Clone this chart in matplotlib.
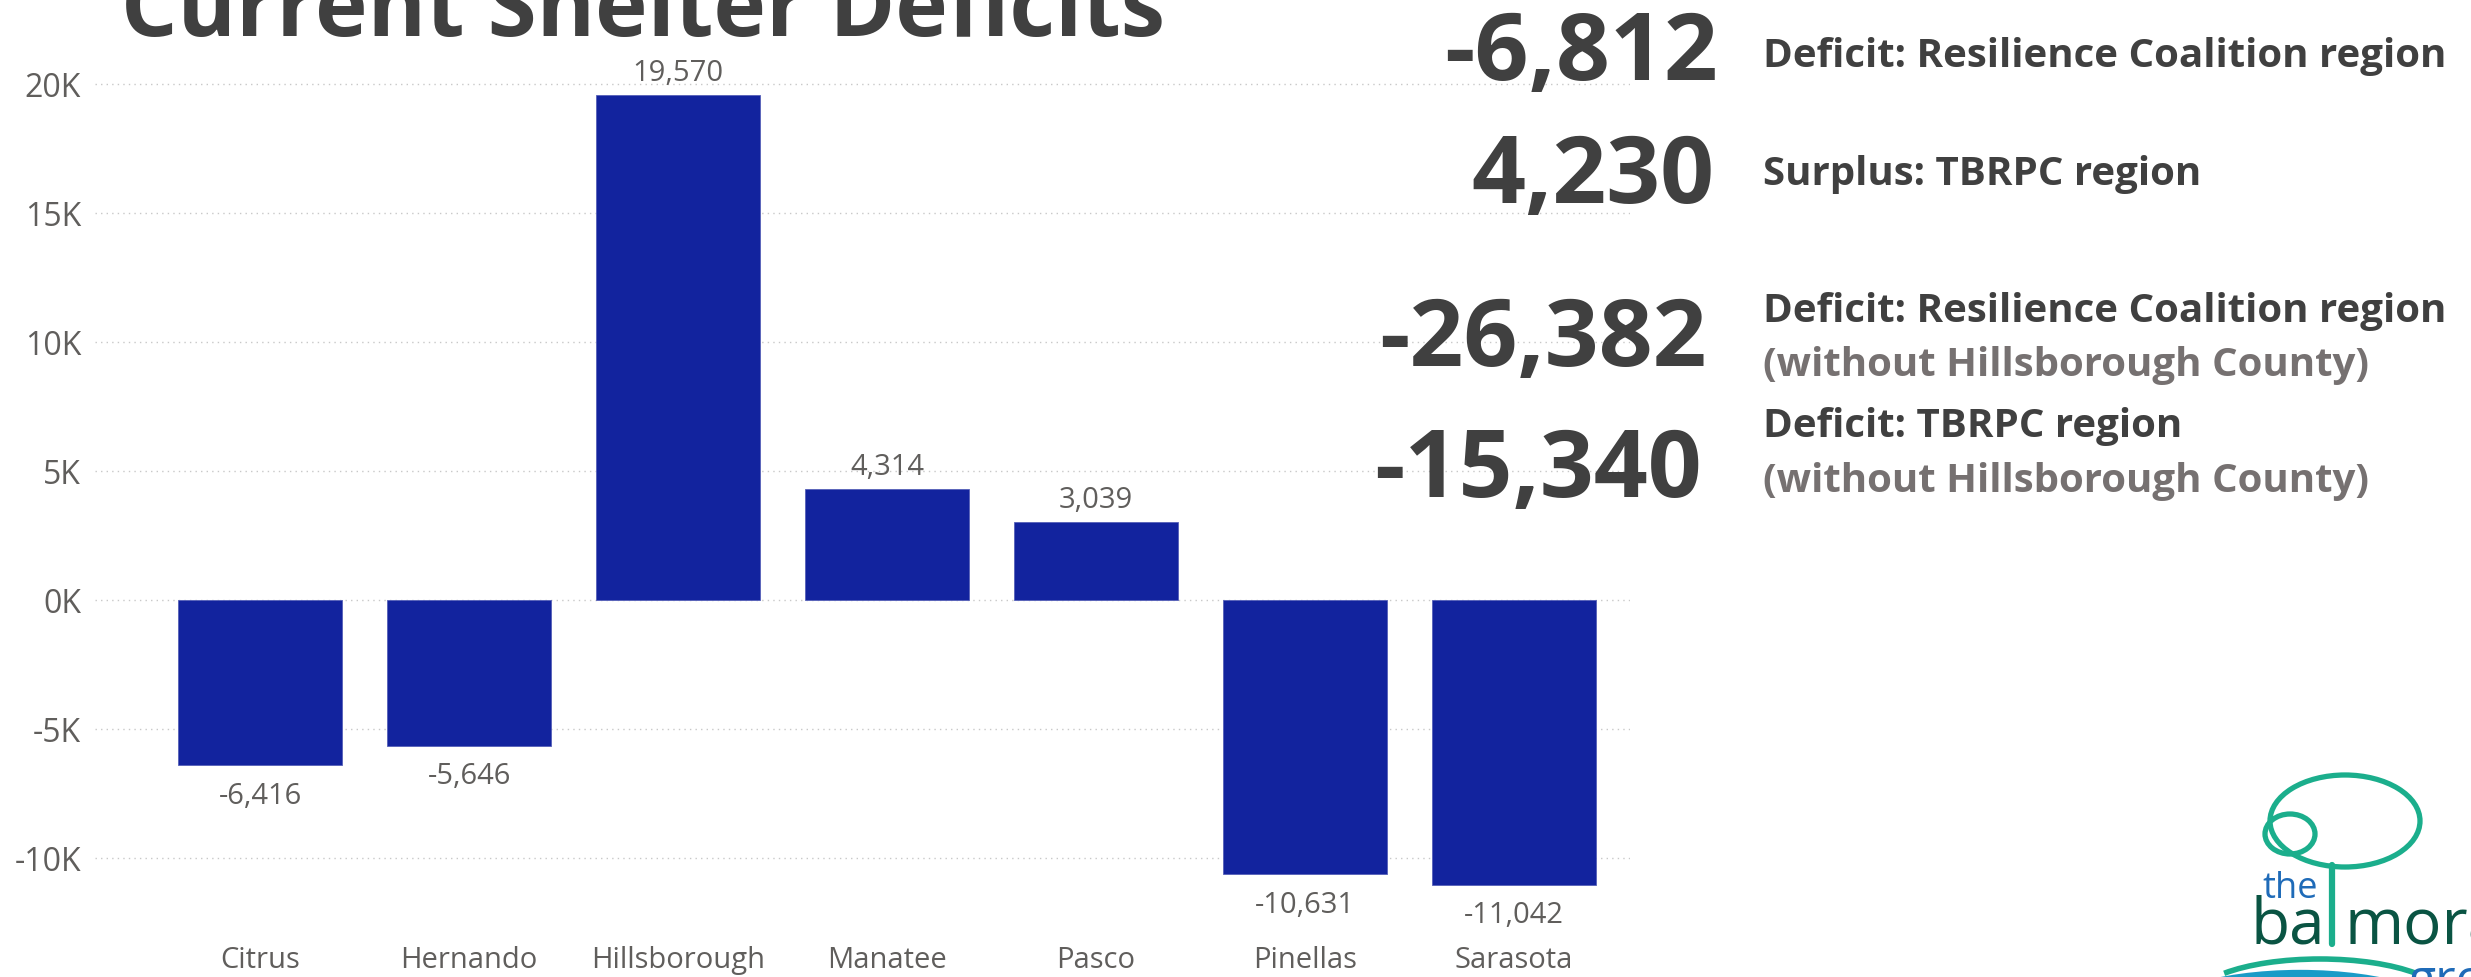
import numpy as np
import matplotlib.pyplot as plt
from matplotlib.patches import Ellipse, Arc

# chart data
counties = ['Citrus', 'Hernando', 'Hillsborough', 'Manatee', 'Pasco', 'Pinellas', 'Sarasota']
deficits = [-6416, -5646, 19570, 4314, 3039, -10631, -11042]
y_ticks = [-10000, -5000, 0, 5000, 10000, 15000, 20000]

# summary cards on the right
kpi_values = [-6812, 4230, -26382, -15340]
kpi_titles = ['Deficit: Resilience Coalition region', 'Surplus: TBRPC region',
              'Deficit: Resilience Coalition region', 'Deficit: TBRPC region']
kpi_notes = ['', '', '(without Hillsborough County)', '(without Hillsborough County)']

W, H = 2471, 978
BAR = '#12239E'
DARK = '#404040'
GREY = '#605E5C'

plt.rcParams['font.family'] = ['Open Sans', 'DejaVu Sans']
plt.rcParams['axes.unicode_minus'] = False

fig = plt.figure(figsize=(W / 100, H / 100), dpi=100)

# overlay in pixel coords for title, cards and logo
ov = fig.add_axes([0, 0, 1, 1])
ov.set_xlim(0, W)
ov.set_ylim(H, 0)
ov.axis('off')
ov.patch.set_visible(False)
ov.set_zorder(3)

ax = fig.add_axes([95 / W, (H - 923.5) / H, 1535 / W, 864.5 / H])
x = np.arange(len(counties))
ax.bar(x, deficits, width=0.785, color=BAR, edgecolor='#5560b8', linewidth=0.6, zorder=2)
ax.set_xlim(-0.79, 6.555)
ax.set_ylim(-12500, 21000)
ax.set_yticks(y_ticks)
ax.set_yticklabels([f'{v // 1000}K' for v in y_ticks])
ax.set_xticks(x)
ax.set_xticklabels(counties)
ax.grid(axis='y', color='#C8C8C8', linestyle=(0, (1, 3)), linewidth=1, zorder=0)
ax.set_axisbelow(True)
for s in ax.spines.values():
    s.set_visible(False)
ax.tick_params(axis='y', length=0, pad=10, labelsize=23, labelcolor=GREY)
ax.tick_params(axis='x', length=0, pad=16, labelsize=21, labelcolor=GREY)

for xi, v in zip(x, deficits):
    off = 16 if v > 0 else -21.6
    ax.annotate(f'{v:,}', (xi, v), xytext=(0, off), textcoords='offset points',
                ha='center', va='center', fontsize=21, color=GREY)

# title (cut off at the top like the slide)
ov.text(121, 36, 'Current Shelter Deficits', fontsize=64, fontweight='bold',
        color=DARK, ha='left', va='baseline')

# cards
num_right = [1718, 1714, 1707, 1702]
num_base = [80, 203, 366, 497]
title_base = [67, 185, 322, 437]
note_base = [0, 0, 376, 492]
for i, v in enumerate(kpi_values):
    ov.text(num_right[i], num_base[i], f'{v:,}', fontsize=68, fontweight='bold',
            color=DARK, ha='right', va='baseline')
    ov.text(1763, title_base[i], kpi_titles[i], fontsize=29, fontweight='bold',
            color=DARK, ha='left', va='baseline')
    if kpi_notes[i]:
        ov.text(1763, note_base[i], kpi_notes[i], fontsize=29, fontweight='bold',
                color='#767171', ha='left', va='baseline')

# logo
teal = '#1BAE8C'
ov.add_patch(Ellipse((2345, 822), 150, 92, fill=False, edgecolor=teal, lw=3.8))
ov.add_patch(Ellipse((2290, 835), 50, 40, fill=False, edgecolor=teal, lw=3.8))
ov.plot([2332, 2332], [866, 945], color=teal, lw=4.5, solid_capstyle='round')
ov.add_patch(Arc((2320, 1000), 250, 80, theta1=195, theta2=345, color=teal, lw=4))
ov.add_patch(Arc((2300, 1030), 320, 110, theta1=200, theta2=340, color='#1A9BC7', lw=6))
ov.text(2262, 898, 'the', fontsize=26, color='#1F6BB8', ha='left', va='baseline')
ov.text(2250, 943, 'ba', fontsize=46, color='#0A5443', ha='left', va='baseline')
ov.text(2345, 943, 'moral', fontsize=46, color='#0A5443', ha='left', va='baseline')
ov.text(2408, 995, 'group', fontsize=36, color='#1F6BB8', ha='left', va='baseline')

fig.savefig('out.png', dpi=100)
